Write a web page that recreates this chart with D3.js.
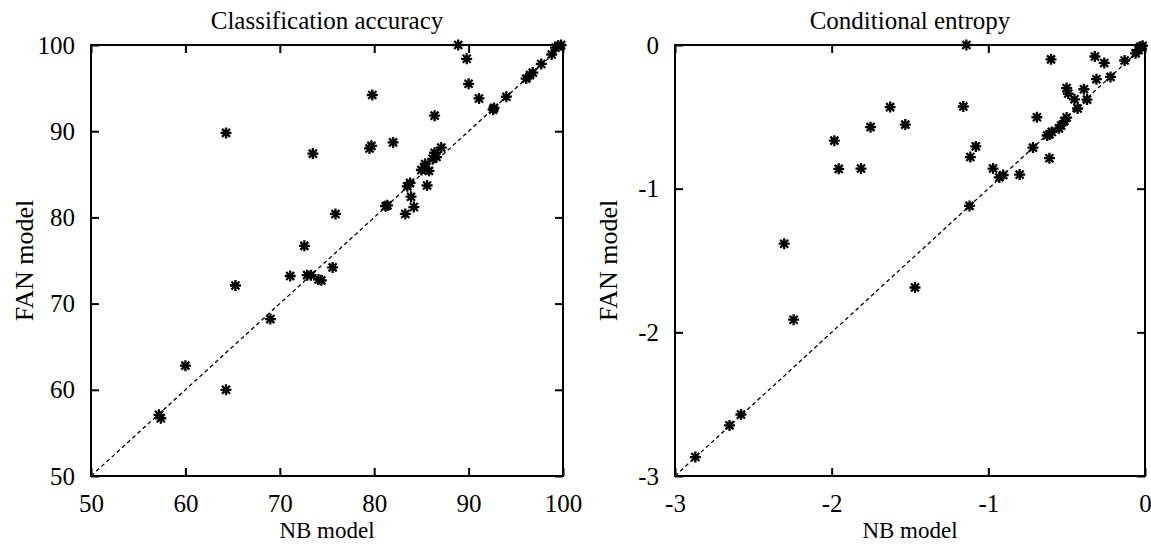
<!DOCTYPE html>
<html>
<head>
<meta charset="utf-8">
<script src="https://cdn.jsdelivr.net/npm/d3@7"></script>
<style>
body{margin:0;background:#fff}
text{font-family:"Liberation Serif","Times New Roman",serif;fill:#000;font-size:25px}
.tick line{stroke:#000;stroke-width:2}
</style>
</head>
<body>
<svg id="chart" width="1151" height="544"></svg>
<script>
// classification accuracy, NB vs FAN
var accNB=[88.9,89.8,90.0,91.1,92.6,92.7,94.0,96.1,96.5,96.8,97.7,98.8,99.2,99.5,99.8,
  64.3,79.8,86.4,79.5,79.7,82.0,73.5,86.4,86.6,87.1,86.2,85.4,85.0,85.8,83.8,83.5,85.6,
  83.9,84.2,83.3,81.4,81.2,75.9,72.6,75.6,71.1,72.9,73.3,74.1,74.4,65.3,69.0,60.0,64.3,57.2,57.4];
var accFAN=[100,98.4,95.5,93.8,92.5,92.7,94.0,96.1,96.5,96.8,97.8,98.9,99.7,99.9,100,
  89.8,94.2,91.8,88.0,88.3,88.7,87.4,87.5,87.0,88.1,86.8,86.2,85.5,85.4,84.0,83.6,83.7,
  82.4,81.2,80.4,81.4,81.3,80.4,76.7,74.2,73.2,73.3,73.3,72.8,72.7,72.1,68.2,62.8,60.0,57.1,56.7];
var accTicks=[50,60,70,80,90,100];

// conditional entropy, NB vs FAN
var entNB=[-1.14,-0.60,-0.32,-0.26,-0.13,-0.31,-0.22,-0.06,-0.04,-0.03,-0.015,
  -0.50,-0.49,-0.39,-0.45,-0.37,-0.43,-0.50,-0.515,-0.535,-0.55,-0.69,-0.595,-0.61,-0.625,
  -0.715,-0.61,-0.97,-0.93,-0.905,-0.80,-1.12,-1.08,-1.115,-1.16,-1.627,-1.53,-1.752,
  -1.983,-1.955,-1.813,-2.303,-1.468,-2.243,-2.579,-2.652,-2.87];
var entFAN=[0.0,-0.10,-0.08,-0.125,-0.108,-0.238,-0.222,-0.058,-0.035,-0.012,-0.005,
  -0.30,-0.338,-0.308,-0.378,-0.380,-0.442,-0.505,-0.53,-0.56,-0.58,-0.503,-0.605,-0.622,-0.63,
  -0.714,-0.788,-0.86,-0.922,-0.905,-0.902,-1.12,-0.706,-0.78,-0.428,-0.432,-0.554,-0.572,
  -0.666,-0.862,-0.86,-1.383,-1.688,-1.912,-2.572,-2.648,-2.868];
var entTicks=[-3,-2,-1,0];

var svg=d3.select("#chart");
var star="M-5.5,0H5.5M0,-5.5V5.5M-4,-4L4,4M-4,4L4,-4";

function drawPanel(box,title,nb,fan,ticks){
  var lo=ticks[0],hi=ticks[ticks.length-1];
  var x=d3.scaleLinear().domain([lo,hi]).range([box.left,box.right]);
  var y=d3.scaleLinear().domain([lo,hi]).range([box.bottom,box.top]);
  var fmt=d=>String(d);
  var g=svg.append("g");

  g.append("g").attr("transform","translate(0,"+box.bottom+")")
    .call(d3.axisBottom(x).tickValues(ticks).tickSize(-8).tickPadding(18).tickFormat(fmt))
    .call(a=>a.select(".domain").remove());
  g.append("g").attr("transform","translate("+box.left+",0)")
    .call(d3.axisLeft(y).tickValues(ticks).tickSize(-8).tickPadding(16).tickFormat(fmt))
    .call(a=>a.select(".domain").remove());
  g.append("g").attr("transform","translate(0,"+box.top+")")
    .call(d3.axisTop(x).tickValues(ticks).tickSize(-8).tickFormat(""))
    .call(a=>a.select(".domain").remove());
  g.append("g").attr("transform","translate("+box.right+",0)")
    .call(d3.axisRight(y).tickValues(ticks).tickSize(-8).tickFormat(""))
    .call(a=>a.select(".domain").remove());

  g.append("rect")
    .attr("x",box.left).attr("y",box.top)
    .attr("width",box.right-box.left).attr("height",box.bottom-box.top)
    .attr("fill","none").attr("stroke","#000").attr("stroke-width",2);

  //对角线
  var line=d3.line().x(d=>x(d)).y(d=>y(d));
  g.append("path")
    .attr("d",line([lo,hi]))
    .attr("fill","none").attr("stroke","#000")
    .attr("stroke-width",1.3).attr("stroke-dasharray","4,3");

  g.selectAll("path.pt")
    .data(d3.zip(nb,fan))
    .enter()
    .append("path")
    .attr("class","pt")
    .attr("transform",d=>"translate("+x(d[0])+","+y(d[1])+")")
    .attr("d",star)
    .attr("stroke","#000").attr("stroke-width",2.3);

  var cx=(box.left+box.right)/2,cy=(box.top+box.bottom)/2;
  g.append("text").attr("x",cx).attr("y",29).attr("text-anchor","middle").text(title);
  g.append("text").attr("x",cx).attr("y",538).attr("text-anchor","middle")
    .style("font-size","23px").text("NB model");
  g.append("text").attr("transform","translate("+(box.left-58)+","+cy+") rotate(-90)")
    .attr("text-anchor","middle").style("font-size","26px").text("FAN model");
}

drawPanel({left:91,right:563,top:45,bottom:476},"Classification accuracy",accNB,accFAN,accTicks);
drawPanel({left:675,right:1145,top:45,bottom:476},"Conditional entropy",entNB,entFAN,entTicks);
</script>
</body>
</html>
